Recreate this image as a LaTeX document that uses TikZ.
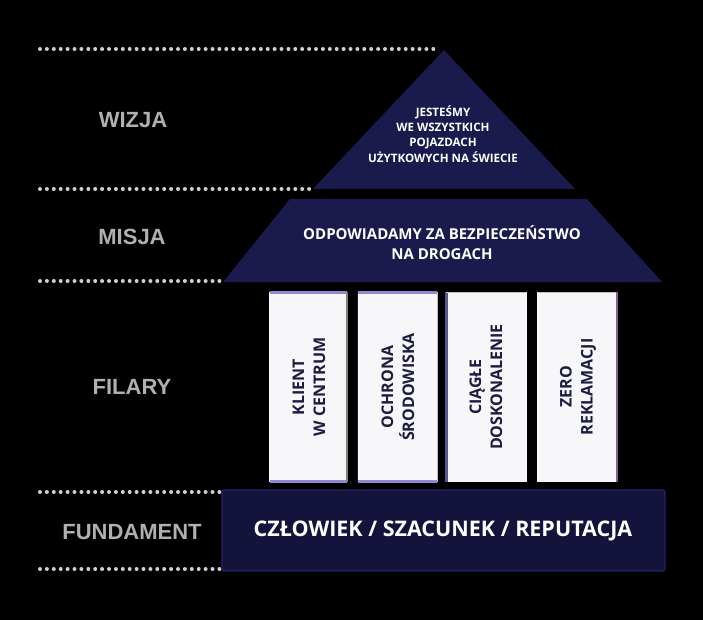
\documentclass[tikz,border=0pt]{standalone}
\usepackage{fontspec}
\setmainfont{Open Sans}
\newfontfamily\labelfont{Liberation Sans}
\definecolor{roofnavy}{HTML}{1B1A4D}
\definecolor{basenavy}{HTML}{14133C}
\definecolor{baseedge}{HTML}{24226A}
\definecolor{pillarwhite}{HTML}{F7F7F9}
\definecolor{pillartext}{HTML}{1C1B40}
\definecolor{lavender}{HTML}{8E8AD0}
\definecolor{dotgrey}{HTML}{CFCFCF}
\definecolor{labelgrey}{HTML}{B0B0B0}
\definecolor{slate}{HTML}{5A5890}
\definecolor{mauve}{HTML}{8A5A98}
\tikzset{
  dotline/.style={dotgrey, line width=4pt, line cap=round, dash pattern=on 0pt off 6.9pt},
  sidelabel/.style={labelgrey, font=\labelfont\bfseries\fontsize{22}{24}\selectfont, anchor=center},
  pillarbox/.style={fill=pillarwhite, draw=none},
  pillarlabel/.style={pillartext, font=\bfseries\fontsize{16}{21}\selectfont, align=center, rotate=90, anchor=center},
  rooftext/.style={white, font=\bfseries, align=center, anchor=center}
}
\begin{document}
\begin{tikzpicture}[x=1pt,y=-1pt]
\fill[black] (0,0) rectangle (703,620);
\useasboundingbox (0,0) rectangle (703,620);

% dotted guide lines
\coordinate (l1a) at (40,49);  \coordinate (l1b) at (438,49);
\coordinate (l2a) at (40,189); \coordinate (l2b) at (312,189);
\coordinate (l3a) at (40,281); \coordinate (l3b) at (221,281);
\coordinate (l4a) at (40,492); \coordinate (l4b) at (221,492);
\coordinate (l5a) at (40,569); \coordinate (l5b) at (221,569);
\draw[dotline] (l1a) -- (l1b);
\draw[dotline] (l2a) -- (l2b);
\draw[dotline] (l3a) -- (l3b);
\draw[dotline] (l4a) -- (l4b);
\draw[dotline] (l5a) -- (l5b);

% side labels
\node[sidelabel] (wizja) at (133,120) {WIZJA};
\node[sidelabel] (misja) at (132,237) {MISJA};
\node[sidelabel] (filary) at (132,387) {FILARY};
\node[sidelabel] (fund) at (132,532) {FUNDAMENT};

% roof: vision triangle
\fill[roofnavy] (444,50) -- (575,189) -- (313,189) -- cycle;
\node[rooftext, font=\bfseries\fontsize{11.6}{15.3}\selectfont] (vision) at (443,134)
  {JESTEŚMY\\WE WSZYSTKICH\\POJAZDACH\\UŻYTKOWYCH NA ŚWIECIE};

% mission trapezoid
\fill[roofnavy] (290,199) -- (587,199) -- (662,282) -- (223,282) -- cycle;
\node[rooftext, font=\bfseries\fontsize{15}{20}\selectfont] (mission) at (442,243)
  {ODPOWIADAMY ZA BEZPIECZEŃSTWO\\NA DROGACH};

% pillars
\fill[pillarbox] (269,292) rectangle (348,482);
\fill[pillarbox] (357,292) rectangle (438,482);
\fill[pillarbox] (445,292) rectangle (527,482);
\fill[pillarbox] (537,292) rectangle (618,482);
% pillar edges
\draw[lavender, line width=3pt] (270,292) -- (347,292);
\draw[lavender, line width=3pt] (270,481) -- (347,481);
\draw[gray, line width=2.5pt] (347,292) -- (347,482);
\draw[lavender, line width=3pt] (358,292) -- (437,292);
\draw[lavender, line width=3pt] (358,481) -- (437,481);
\draw[roofnavy, line width=1.5pt] (357.5,292) -- (357.5,482);
\draw[lightgray, line width=1.5pt] (437.5,292) -- (437.5,482);
\draw[slate, line width=3pt] (446,292) -- (446,482);
\draw[lightgray, line width=1.5pt] (446,292.5) -- (526,292.5);
\draw[lightgray, line width=1.5pt] (538,292.5) -- (616,292.5);
\draw[mauve, line width=2.5pt] (617,292) -- (617,482);

\node[pillarlabel] (p1) at (309,387) {KLIENT\\W CENTRUM};
\node[pillarlabel] (p2) at (398,387) {OCHRONA\\ŚRODOWISKA};
\node[pillarlabel] (p3) at (486,387) {CIĄGŁE\\DOSKONALENIE};
\node[pillarlabel] (p4) at (578,387) {ZERO\\REKLAMACJI};

% foundation
\filldraw[fill=basenavy, draw=baseedge, line width=1.2pt, rounded corners=2pt] (222,490) rectangle (665,571);
\node[rooftext, font=\bfseries\fontsize{21.5}{24}\selectfont] (base) at (443,531)
  {CZŁOWIEK / SZACUNEK / REPUTACJA};
\end{tikzpicture}
\end{document}
